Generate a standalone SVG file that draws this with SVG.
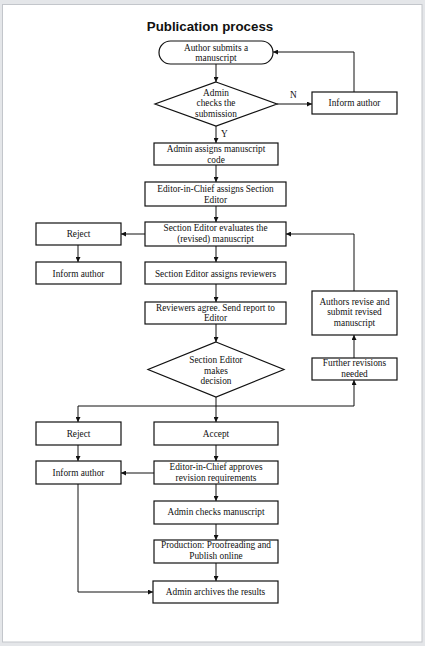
<svg xmlns="http://www.w3.org/2000/svg" width="425" height="646" viewBox="0 0 425 646">
<style>
.box{fill:#fff;stroke:#111;stroke-width:1.2}
.t{font-family:"Liberation Serif","Times New Roman",serif;font-size:9.3px;fill:#111;text-anchor:middle}
.lbl{font-family:"Liberation Serif","Times New Roman",serif;font-size:9.3px;fill:#111}
.c{fill:none;stroke:#111;stroke-width:1}
.title{font-family:"Liberation Sans",Arial,sans-serif;font-size:13.3px;font-weight:bold;fill:#111;text-anchor:middle}
</style>
<defs>
<marker id="ah" markerUnits="userSpaceOnUse" markerWidth="5" markerHeight="5" refX="5" refY="2.5" orient="auto">
<path d="M0,0 L5,2.5 L0,5 z" fill="#111"/>
</marker>
</defs>
<rect x="0" y="0" width="425" height="646" fill="#e4e6e9"/>
<rect x="2.5" y="4.5" width="419.5" height="637.5" fill="#fff" stroke="#c3c6cb" stroke-width="1"/>
<text class="title" x="210" y="31">Publication process</text>

<g id="connectors">
<path class="c" d="M216,64 V82" marker-end="url(#ah)"/>
<path class="c" d="M277,104 H312" marker-end="url(#ah)"/>
<path class="c" d="M354,92 V52 H273" marker-end="url(#ah)"/>
<path class="c" d="M216,126 V143" marker-end="url(#ah)"/>
<path class="c" d="M216,165 V182" marker-end="url(#ah)"/>
<path class="c" d="M216,206 V222" marker-end="url(#ah)"/>
<path class="c" d="M145,234 H121" marker-end="url(#ah)"/>
<path class="c" d="M78,245 V262" marker-end="url(#ah)"/>
<path class="c" d="M216,246 V262" marker-end="url(#ah)"/>
<path class="c" d="M216,284 V302" marker-end="url(#ah)"/>
<path class="c" d="M216,324 V342" marker-end="url(#ah)"/>
<path class="c" d="M354,291 V234 H286" marker-end="url(#ah)"/>
<path class="c" d="M354,358 V335" marker-end="url(#ah)"/>
<path class="c" d="M216,397 V422" marker-end="url(#ah)"/>
<path class="c" d="M216,406 H78 V422" marker-end="url(#ah)"/>
<path class="c" d="M216,406 H354 V380" marker-end="url(#ah)"/>
<path class="c" d="M78,445 V461" marker-end="url(#ah)"/>
<path class="c" d="M216,445 V461" marker-end="url(#ah)"/>
<path class="c" d="M154,473 H121" marker-end="url(#ah)"/>
<path class="c" d="M216,484 V501" marker-end="url(#ah)"/>
<path class="c" d="M216,524 V540" marker-end="url(#ah)"/>
<path class="c" d="M216,563 V581" marker-end="url(#ah)"/>
<path class="c" d="M78,484 V592 H153" marker-end="url(#ah)"/>
<text class="lbl" x="290" y="98">N</text>
<text class="lbl" x="221" y="136.5">Y</text>
</g>

<g id="start">
<rect class="box" x="159" y="41" width="114" height="23" rx="11.5"/>
<text class="t" x="216" y="50.5">Author submits a</text>
<text class="t" x="216" y="61">manuscript</text>
</g>
<g id="check-submission">
<polygon class="box" points="216,82 277,104 216,126 155,104"/>
<text class="t" x="216" y="95.5">Admin</text>
<text class="t" x="216" y="106">checks the</text>
<text class="t" x="216" y="116.5">submission</text>
</g>
<g id="inform-author-1">
<rect class="box" x="312" y="92" width="85" height="22"/>
<text class="t" x="354.5" y="106.3">Inform author</text>
</g>
<g id="assign-code">
<rect class="box" x="154" y="143" width="124" height="22"/>
<text class="t" x="216" y="151.7">Admin assigns manuscript</text>
<text class="t" x="216" y="162.7">code</text>
</g>
<g id="assign-section-editor">
<rect class="box" x="145" y="182" width="141" height="24"/>
<text class="t" x="215.5" y="192">Editor-in-Chief assigns Section</text>
<text class="t" x="215.5" y="202.8">Editor</text>
</g>
<g id="evaluate">
<rect class="box" x="145" y="222" width="141" height="24"/>
<text class="t" x="215.5" y="231.3">Section Editor evaluates the</text>
<text class="t" x="215.5" y="242">(revised) manuscript</text>
</g>
<g id="reject-1">
<rect class="box" x="36" y="223" width="85" height="22"/>
<text class="t" x="78.5" y="236.5">Reject</text>
</g>
<g id="inform-author-2">
<rect class="box" x="36" y="262" width="85" height="22"/>
<text class="t" x="78.5" y="276.5">Inform author</text>
</g>
<g id="assign-reviewers">
<rect class="box" x="145" y="262" width="141" height="22"/>
<text class="t" x="215.5" y="276.5">Section Editor assigns reviewers</text>
</g>
<g id="reviewers-report">
<rect class="box" x="145" y="302" width="141" height="22"/>
<text class="t" x="215.5" y="310.5">Reviewers agree. Send report to</text>
<text class="t" x="215.5" y="321.3">Editor</text>
</g>
<g id="authors-revise">
<rect class="box" x="312" y="291" width="85" height="44"/>
<text class="t" x="354.5" y="304.5">Authors revise and</text>
<text class="t" x="354.5" y="315.3">submit revised</text>
<text class="t" x="354.5" y="326">manuscript</text>
</g>
<g id="decision">
<polygon class="box" points="216,342 284,369.5 216,397 148,369.5"/>
<text class="t" x="216" y="363">Section Editor</text>
<text class="t" x="216" y="373.6">makes</text>
<text class="t" x="216" y="383.7">decision</text>
</g>
<g id="further-revisions">
<rect class="box" x="312" y="358" width="85" height="22"/>
<text class="t" x="354.5" y="366.3">Further revisions</text>
<text class="t" x="354.5" y="377">needed</text>
</g>
<g id="reject-2">
<rect class="box" x="36" y="422" width="85" height="23"/>
<text class="t" x="78.5" y="437">Reject</text>
</g>
<g id="accept">
<rect class="box" x="154" y="422" width="124" height="23"/>
<text class="t" x="216" y="437">Accept</text>
</g>
<g id="inform-author-3">
<rect class="box" x="36" y="461" width="85" height="23"/>
<text class="t" x="78.5" y="476">Inform author</text>
</g>
<g id="approve-revisions">
<rect class="box" x="154" y="461" width="124" height="23"/>
<text class="t" x="216" y="469.5">Editor-in-Chief approves</text>
<text class="t" x="216" y="480.5">revision requirements</text>
</g>
<g id="admin-checks">
<rect class="box" x="154" y="501" width="124" height="23"/>
<text class="t" x="216" y="515.3">Admin checks manuscript</text>
</g>
<g id="production">
<rect class="box" x="154" y="540" width="124" height="23"/>
<text class="t" x="216" y="548">Production: Proofreading and</text>
<text class="t" x="216" y="559">Publish online</text>
</g>
<g id="archive">
<rect class="box" x="153" y="581" width="125" height="22"/>
<text class="t" x="215.5" y="594.5">Admin archives the results</text>
</g>
</svg>
